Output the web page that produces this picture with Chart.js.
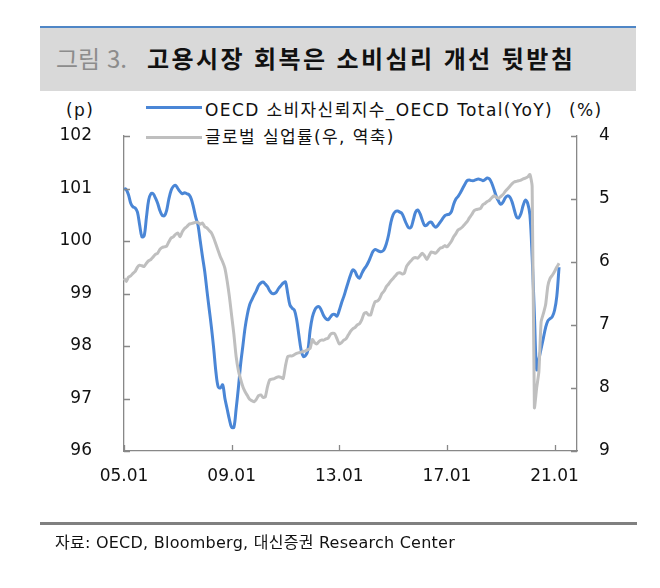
<!DOCTYPE html>
<html lang="ko">
<head>
<meta charset="utf-8">
<script src="https://cdn.jsdelivr.net/npm/chart.js@4.4.1/dist/chart.umd.min.js"></script>
<style>
  body { margin: 0; background: #fff; }
  #page { position: relative; width: 660px; height: 588px; overflow: hidden; font-family: "DejaVu Sans", "Noto Sans CJK KR", sans-serif; }
  #titlebar { position: absolute; left: 40px; top: 26px; width: 596px; height: 65px; background: #d9d9d9; border-top: 2px solid #4f86c6; box-sizing: border-box; }
  #fig { position: absolute; left: 56px; top: 38px; font-family: "Noto Sans CJK KR"; font-size: 24px; color: #8c8c8c; line-height: 40px; }
  #title { position: absolute; left: 147px; top: 38px; font-family: "Noto Sans CJK KR"; font-weight: 700; font-size: 24px; letter-spacing: 2.4px; color: #111; line-height: 40px; }
  .lbl { position: absolute; font-size: 17px; color: #111; line-height: 20px; white-space: nowrap; letter-spacing: 1.4px; }
  .swatch { position: absolute; left: 146px; width: 56px; height: 3px; }
  #footline { position: absolute; left: 40px; top: 522px; width: 597px; height: 3px; background: #808080; }
  #source { position: absolute; left: 55px; top: 533px; font-size: 16px; color: #111; line-height: 20px; white-space: nowrap; letter-spacing: 0.25px; }
  #wrap { position: absolute; left: 0; top: 0; width: 660px; height: 588px; }
</style>
</head>
<body>
<div id="page">
  <div id="titlebar"></div>
  <div id="fig">그림 3.</div>
  <div id="title">고용시장 회복은 소비심리 개선 뒷받침</div>

  <div class="lbl" style="left:66px; top:100px;">(p)</div>
  <div class="swatch" style="top:106px; background:#4a86d6;"></div>
  <div class="lbl" style="left:205px; top:100px;">OECD 소비자신뢰지수_OECD Total(YoY)</div>
  <div class="lbl" style="left:569px; top:100px;">(%)</div>
  <div class="swatch" style="top:136px; background:#bfbfbf;"></div>
  <div class="lbl" style="left:205px; top:127px;">글로벌 실업률(우, 역축)</div>

  <div id="wrap"><canvas id="chart"></canvas></div>

  <div id="footline"></div>
  <div id="source">자료: OECD, Bloomberg, 대신증권 Research Center</div>
</div>
<script>
// monthly, 2005.01 - 2021.03
const cci = [
  101.00, 100.98, 100.88, 100.72, 100.65, 100.63, 100.55, 100.30, 100.08, 100.10, 100.45, 100.78, // 05
  100.90, 100.90, 100.82, 100.72, 100.58, 100.49, 100.48, 100.58, 100.80, 100.96, 101.04, 101.06, // 06
  101.00, 100.94, 100.90, 100.92, 100.90, 100.88, 100.80, 100.64, 100.45, 100.30, 100.00, 99.70,  // 07
  99.42, 99.05, 98.70, 98.35, 97.95, 97.50, 97.22, 97.20, 97.26, 97.00, 96.80, 96.60,             // 08
  96.45, 96.45, 96.80, 97.20, 97.65, 98.00, 98.35, 98.60, 98.78, 98.88, 98.97, 99.05,             // 09
  99.15, 99.20, 99.22, 99.18, 99.13, 99.05, 99.00, 99.00, 99.03, 99.10, 99.15, 99.20,             // 10
  99.22, 99.00, 98.78, 98.72, 98.68, 98.50, 98.20, 97.92, 97.80, 97.82, 97.92, 98.30,             // 11
  98.55, 98.68, 98.74, 98.75, 98.68, 98.58, 98.52, 98.50, 98.55, 98.60, 98.60, 98.57,             // 12
  98.68, 98.82, 98.94, 99.08, 99.22, 99.35, 99.45, 99.42, 99.33, 99.29, 99.38, 99.46,             // 13
  99.52, 99.60, 99.70, 99.80, 99.84, 99.82, 99.80, 99.80, 99.84, 99.95, 100.12, 100.35,           // 14
  100.50, 100.56, 100.57, 100.55, 100.52, 100.42, 100.32, 100.25, 100.26, 100.40, 100.55, 100.59, // 15
  100.52, 100.40, 100.30, 100.30, 100.35, 100.36, 100.30, 100.26, 100.30, 100.36, 100.42, 100.48, // 16
  100.50, 100.51, 100.56, 100.70, 100.80, 100.85, 100.92, 101.00, 101.08, 101.15, 101.16, 101.15, // 17
  101.15, 101.17, 101.18, 101.17, 101.15, 101.17, 101.20, 101.18, 101.10, 100.98, 100.85, 100.76, // 18
  100.70, 100.74, 100.82, 100.86, 100.84, 100.75, 100.60, 100.46, 100.44, 100.52, 100.68, 100.78, // 19
  100.72, 100.50, 99.70, 98.60, 97.55, 97.75, 97.95, 98.15, 98.35, 98.48, 98.52, 98.56,           // 20
  98.68, 98.95, 99.50                                                                              // 21
];

const unemp = [
  6.26, 6.31, 6.24, 6.22, 6.18, 6.15, 6.08, 6.05, 6.06, 6.07, 6.02, 5.98, // 05
  5.96, 5.92, 5.88, 5.86, 5.80, 5.77, 5.76, 5.75, 5.68, 5.62, 5.60, 5.56, // 06
  5.54, 5.60, 5.52, 5.47, 5.44, 5.40, 5.39, 5.38, 5.37, 5.37, 5.40, 5.38, // 07
  5.44, 5.46, 5.50, 5.54, 5.62, 5.72, 5.82, 5.92, 6.00, 6.10, 6.30, 6.55, // 08
  6.85, 7.15, 7.50, 7.72, 7.86, 7.98, 8.06, 8.12, 8.18, 8.20, 8.22, 8.18, // 09
  8.12, 8.11, 8.15, 8.14, 7.98, 7.87, 7.86, 7.85, 7.83, 7.82, 7.83, 7.85, // 10
  7.65, 7.50, 7.49, 7.49, 7.47, 7.45, 7.44, 7.43, 7.42, 7.41, 7.39, 7.37, // 11
  7.23, 7.28, 7.30, 7.26, 7.24, 7.24, 7.22, 7.21, 7.15, 7.13, 7.14, 7.22, // 12
  7.30, 7.28, 7.24, 7.22, 7.16, 7.10, 7.06, 7.04, 7.00, 6.98, 6.92, 6.82, // 13
  6.80, 6.84, 6.84, 6.72, 6.63, 6.62, 6.58, 6.50, 6.46, 6.39, 6.35, 6.30, // 14
  6.26, 6.22, 6.18, 6.17, 6.19, 6.18, 6.07, 6.02, 5.98, 5.94, 5.93, 5.94, // 15
  5.90, 5.86, 5.90, 5.96, 5.90, 5.84, 5.85, 5.86, 5.82, 5.78, 5.77, 5.74, // 16
  5.76, 5.72, 5.67, 5.60, 5.55, 5.49, 5.47, 5.44, 5.40, 5.36, 5.30, 5.25, // 17
  5.19, 5.17, 5.16, 5.15, 5.09, 5.07, 5.04, 5.02, 4.98, 4.95, 4.97, 4.99, // 18
  4.96, 4.93, 4.88, 4.84, 4.80, 4.76, 4.73, 4.72, 4.71, 4.70, 4.68, 4.67, // 19
  4.65, 4.61, 4.80, 8.31, 8.00, 7.74, 6.95, 6.82, 6.68, 6.38, 6.26, 6.21, // 20
  6.15, 6.08, 6.02                                                         // 21
];

const xTickLabels = ["05.01", "09.01", "13.01", "17.01", "21.01"];

// month labels 05.01 .. 21.11 (axis runs a bit past the last data point)
const months = [];
for (let y = 5; y <= 21; y++) {
  for (let m = 1; m <= 12; m++) {
    months.push(String(y).padStart(2, "0") + "." + String(m).padStart(2, "0"));
  }
}
months.length = 203;

const axisColor = "#888888";
const tickFont = { family: "DejaVu Sans", size: 17 };

// ticks in Excel style: short marks pointing into the plot
const innerTicks = {
  id: "innerTicks",
  afterDraw(chart) {
    const { ctx, chartArea: a, scales } = chart;
    ctx.save();
    ctx.strokeStyle = axisColor;
    ctx.lineWidth = 1.3;
    ctx.beginPath();
    scales.y.ticks.forEach((t) => {
      const y = Math.round(scales.y.getPixelForValue(t.value)) + 0.5;
      ctx.moveTo(a.left, y);
      ctx.lineTo(a.left + 6, y);
    });
    scales.y2.ticks.forEach((t) => {
      const y = Math.round(scales.y2.getPixelForValue(t.value)) + 0.5;
      ctx.moveTo(a.right, y);
      ctx.lineTo(a.right - 6, y);
    });
    scales.x.ticks.forEach((t) => {
      const x = Math.round(scales.x.getPixelForValue(t.value)) + 0.5;
      ctx.moveTo(x, a.bottom);
      ctx.lineTo(x, a.bottom - 6);
    });
    ctx.stroke();
    ctx.restore();
  },
};

const config = {
  type: "line",
  data: {
    labels: months,
    datasets: [
      {
        label: "OECD 소비자신뢰지수_OECD Total(YoY)",
        data: cci,
        yAxisID: "y",
        borderColor: "#4a86d6",
        borderWidth: 3,
        pointRadius: 0,
        tension: 0.35,
        order: 2,
      },
      {
        label: "글로벌 실업률(우, 역축)",
        data: unemp,
        yAxisID: "y2",
        borderColor: "#bfbfbf",
        borderWidth: 3,
        pointRadius: 0,
        tension: 0.2,
        order: 1,
      },
    ],
  },
  options: {
    responsive: true,
    maintainAspectRatio: false,
    animation: false,
    events: [],
    layout: { padding: { top: 136, left: 0, right: 0, bottom: 0 } },
    plugins: {
      legend: { display: false },
      title: { display: false },
      tooltip: { enabled: false },
    },
    scales: {
      x: {
        type: "category",
        offset: false,
        grid: { display: false },
        border: { display: true, color: axisColor, width: 1.3 },
        ticks: {
          autoSkip: false,
          maxRotation: 0,
          padding: 7,
          color: "#111",
          font: tickFont,
        },
        afterBuildTicks: (scale) => {
          scale.ticks = scale.ticks.filter((t) => xTickLabels.includes(months[t.value]));
        },
        afterFit: (scale) => {
          scale.height = 588 - 451;
        },
      },
      y: {
        position: "left",
        min: 96,
        max: 102,
        grid: { display: false },
        border: { display: true, color: axisColor, width: 1.3 },
        ticks: { stepSize: 1, padding: 24, color: "#111", font: tickFont },
        afterFit: (scale) => {
          scale.width = 124;
        },
      },
      y2: {
        position: "right",
        min: 4,
        max: 9,
        reverse: true,
        grid: { display: false },
        border: { display: true, color: axisColor, width: 1.3 },
        ticks: { stepSize: 1, padding: 14, color: "#111", font: tickFont },
        afterFit: (scale) => {
          scale.width = 660 - 577;
        },
      },
    },
  },
  plugins: [innerTicks],
};

new Chart(document.getElementById("chart"), config);
</script>
</body>
</html>
